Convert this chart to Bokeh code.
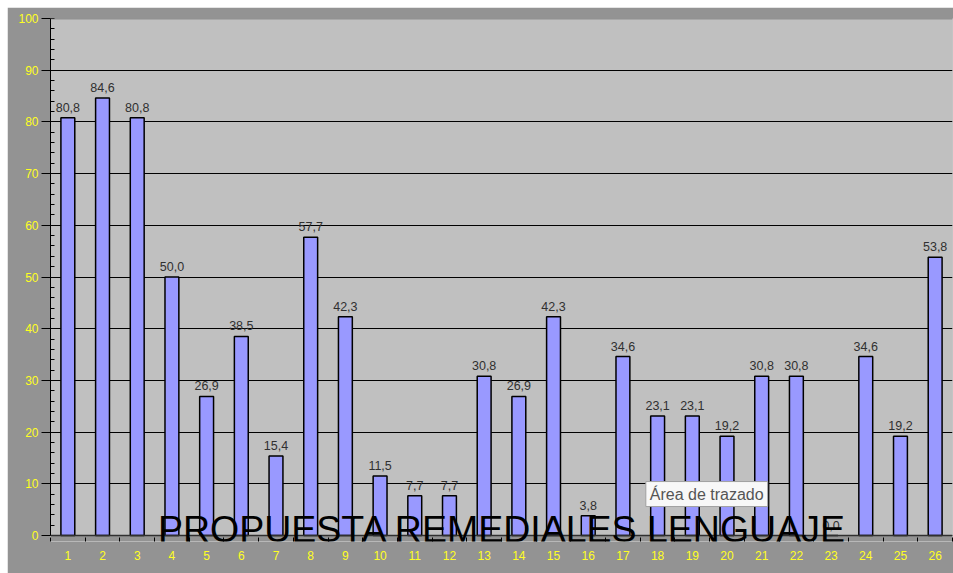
from bokeh.plotting import figure
from bokeh.models import ColumnDataSource, FixedTicker, Range1d, Label, Spacer, BoxAnnotation, Span
from bokeh.layouts import column, row
from bokeh.core.properties import value
from bokeh.embed import file_html
from bokeh.resources import INLINE

categories = list(range(1, 27))
values = [80.8, 84.6, 80.8, 50.0, 26.9, 38.5, 15.4, 57.7, 42.3, 11.5, 7.7, 7.7, 30.8,
          26.9, 42.3, 3.8, 34.6, 23.1, 23.1, 19.2, 30.8, 30.8, 0.0, 34.6, 19.2, 53.8]
value_labels = [f"{v:.1f}".replace(".", ",") for v in values]
y_ticks = list(range(0, 101, 10))
y_minor = list(range(0, 101, 2))
title_text = "PROPUESTA REMEDIALES LENGUAJE"
tooltip_text = "Área de trazado"

src = ColumnDataSource(dict(x=categories, top=values, lab=value_labels))

# frame extends slightly below 0 so the big title overlapping the axis is not clipped
p = figure(width=946, height=566, output_backend="svg", toolbar_location=None,
           x_range=Range1d(0.5, 26.5), y_range=Range1d(-1.16, 100),
           min_border_left=43, min_border_right=1, min_border_top=11, min_border_bottom=32)
p.background_fill_color = "#c0c0c0"
p.border_fill_color = "#939393"
p.outline_line_color = None

p.xgrid.grid_line_color = None
p.ygrid.grid_line_color = "#000000"
p.ygrid.grid_line_width = 1

# paint the strip below zero like the surrounding border
p.add_layout(BoxAnnotation(top=0, fill_color="#939393", fill_alpha=1.0, line_color=None, level="underlay"))

p.vbar(x="x", top="top", width=0.4, bottom=0, source=src,
       fill_color="#9999ff", line_color="#000000", line_width=1.5)
p.text(x="x", y="top", text="lab", source=src, text_align="center", text_baseline="bottom",
       y_offset=-6, text_font=value("Liberation Sans"), text_font_size="12.5px", text_color="#303030")

p.add_layout(Span(location=0, dimension="width", line_color="#303030", line_width=1.5))
p.add_layout(Span(location=100, dimension="width", line_color="#606060", line_width=1.5))

# axes
p.yaxis.ticker = FixedTicker(ticks=y_ticks, minor_ticks=y_minor)
p.yaxis.bounds = (0, 100)
p.yaxis.axis_line_color = "#000000"
p.yaxis.major_tick_line_color = "#000000"
p.yaxis.major_tick_out = 9
p.yaxis.major_tick_in = 0
p.yaxis.minor_tick_line_color = "#000000"
p.yaxis.minor_tick_in = 4
p.yaxis.minor_tick_out = 0
p.yaxis.major_label_text_color = "#ffff22"
p.yaxis.major_label_text_font = "Liberation Sans"
p.yaxis.major_label_text_font_size = "12px"
p.yaxis.major_label_standoff = 3

p.xaxis.ticker = FixedTicker(ticks=categories, minor_ticks=[c + 0.5 for c in [0] + categories])
p.xaxis.axis_line_color = None
p.xaxis.major_tick_line_color = None
p.xaxis.minor_tick_line_color = "#000000"
p.xaxis.minor_tick_out = 0
p.xaxis.minor_tick_in = 4
p.xaxis.major_label_text_color = "#ffff22"
p.xaxis.major_label_text_font = "Liberation Sans"
p.xaxis.major_label_text_font_size = "12px"
p.xaxis.major_label_standoff = 3

p.add_layout(Label(x=452, y=13, x_units="screen", y_units="screen", text=title_text,
                   text_align="center", text_baseline="alphabetic",
                   text_font="Liberation Sans", text_font_size="37.5px", text_color="#000000"))
p.add_layout(Label(x=17.66, y=5.6, text=tooltip_text,
                   text_align="left", text_baseline="bottom",
                   text_font="Liberation Sans", text_font_size="16px", text_color="#555555",
                   background_fill_color="#f8f8f8", border_line_color="#a0a0a0",
                   padding=4))

layout = column(Spacer(width=953, height=7),
                row(Spacer(width=7, height=566), p, spacing=0),
                spacing=0)
open("out.html", "w").write(file_html(layout, INLINE))
